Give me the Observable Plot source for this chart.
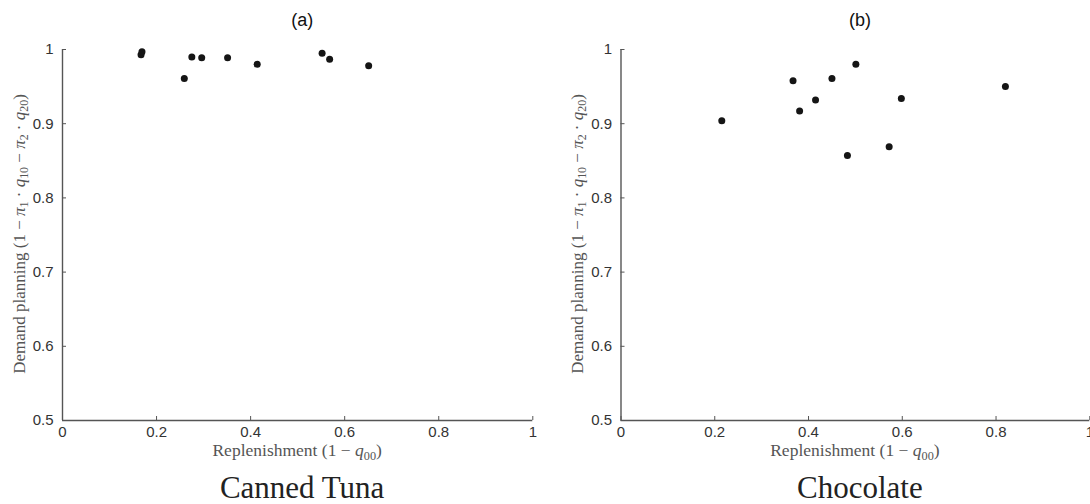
<!DOCTYPE html>
<html>
<head>
<meta charset="utf-8">
<script src="https://cdn.jsdelivr.net/npm/d3@7"></script>
<script src="https://cdn.jsdelivr.net/npm/@observablehq/plot@0.6"></script>
<style>
  html, body { margin: 0; padding: 0; background: #fff; }
  #wrap { position: relative; width: 1090px; height: 504px; overflow: hidden; }
  .panel { position: absolute; top: 30px; }
  .lbl { position: absolute; white-space: nowrap; transform: translate(-50%, -50%); }
  .ttl { font-family: "Liberation Sans", Arial, sans-serif; font-size: 18px; color: #111; }
  .xl { font-family: "Liberation Serif", "Times New Roman", serif; font-size: 17.5px; color: #555; }
  .yl { font-family: "Liberation Serif", "Times New Roman", serif; font-size: 17px; color: #555; transform: translate(-50%, -50%) rotate(-90deg); }
  .cap { font-family: "Liberation Serif", "Times New Roman", serif; font-size: 31px; color: #222; }
  sub { font-size: 0.7em; vertical-align: -0.25em; }
</style>
</head>
<body>
<div id="wrap"></div>
<script>
// ---- data ----
const panelTitles = ["(a)", "(b)"];
const panelCaptions = ["Canned Tuna", "Chocolate"];
const xTicks = [0, 0.2, 0.4, 0.6, 0.8, 1];
const yTicks = [0.5, 0.6, 0.7, 0.8, 0.9, 1];

const tunaX = [0.167, 0.169, 0.259, 0.275, 0.296, 0.351, 0.414, 0.552, 0.568, 0.651];
const tunaY = [0.993, 0.997, 0.961, 0.990, 0.989, 0.989, 0.980, 0.995, 0.987, 0.978];

const chocX = [0.215, 0.367, 0.381, 0.415, 0.450, 0.501, 0.483, 0.572, 0.598, 0.820];
const chocY = [0.904, 0.958, 0.917, 0.932, 0.961, 0.980, 0.857, 0.869, 0.934, 0.950];

const xLabelHTML = 'Replenishment (1 − <i>q</i><sub>00</sub>)';
const yLabelHTML = 'Demand planning (1 − <i>π</i><sub>1</sub> · <i>q</i><sub>10</sub> − <i>π</i><sub>2</sub> · <i>q</i><sub>20</sub>)';

// ---- build ----
const wrap = document.getElementById("wrap");
const panels = [
  {left: 0, mL: 62, mR: 12.7, xs: tunaX, ys: tunaY, yLabX: 21},
  {left: 545, mL: 75.5, mR: 0.7, xs: chocX, ys: chocY, yLabX: 579}
];

panels.forEach((p, k) => {
  const data = p.xs.map((x, i) => ({x, y: p.ys[i]}));
  const chart = Plot.plot({
    width: 545,
    height: 415,
    marginTop: 19,
    marginBottom: 25,
    marginLeft: p.mL,
    marginRight: p.mR,
    style: {fontFamily: "'Liberation Sans', Arial, sans-serif", fontSize: "15px", color: "#333", overflow: "visible"},
    x: {domain: [0, 1]},
    y: {domain: [0.5, 1]},
    marks: [
      Plot.ruleY([0.5], {stroke: "#555", strokeWidth: 1.4}),
      Plot.ruleX([0], {stroke: "#555", strokeWidth: 1.4}),
      Plot.axisX({ticks: xTicks, tickFormat: d => String(d), tickSize: -4, tickPadding: 10, label: null, stroke: "#555", fill: "#333"}),
      Plot.axisY({ticks: yTicks, tickFormat: d => String(d), tickSize: -4, tickPadding: 13, label: null, stroke: "#555", fill: "#333"}),
      Plot.dot(data, {x: "x", y: "y", r: 3.5, fill: "#151515", stroke: "none"})
    ]
  });
  const holder = document.createElement("div");
  holder.className = "panel";
  holder.style.left = p.left + "px";
  holder.appendChild(chart);
  wrap.appendChild(holder);

  const cx = p.left + p.mL + (545 - p.mL - p.mR) / 2;

  const t = document.createElement("div");
  t.className = "lbl ttl";
  t.style.left = (cx + 5) + "px";
  t.style.top = "20px";
  t.textContent = panelTitles[k];
  wrap.appendChild(t);

  const xl = document.createElement("div");
  xl.className = "lbl xl";
  xl.style.left = cx + "px";
  xl.style.top = "452px";
  xl.innerHTML = xLabelHTML;
  wrap.appendChild(xl);

  const yl = document.createElement("div");
  yl.className = "lbl yl";
  yl.style.left = p.yLabX + "px";
  yl.style.top = "234px";
  yl.innerHTML = yLabelHTML;
  wrap.appendChild(yl);

  const c = document.createElement("div");
  c.className = "lbl cap";
  c.style.left = (cx + 5) + "px";
  c.style.top = "488px";
  c.textContent = panelCaptions[k];
  wrap.appendChild(c);
});
</script>
</body>
</html>
